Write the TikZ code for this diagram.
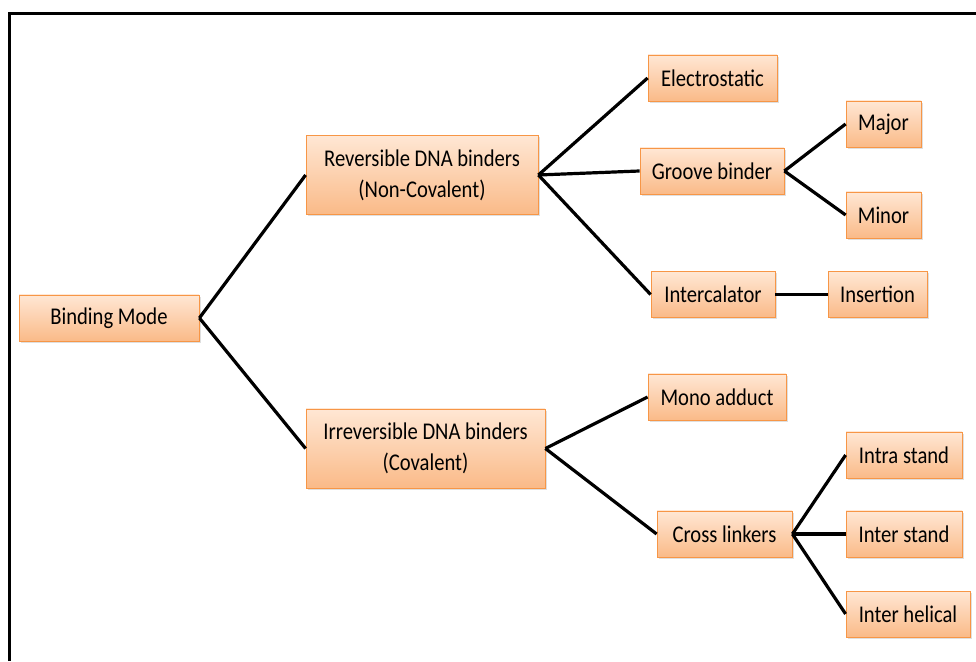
\documentclass[tikz,border=0pt]{standalone}
\usepackage{fontspec}
\setmainfont{Carlito}[FakeStretch=0.86]
\usetikzlibrary{shadows}
\definecolor{boxtop}{RGB}{255,231,212}
\definecolor{boxbot}{RGB}{250,186,136}
\definecolor{boxline}{RGB}{247,150,70}
\begin{document}
\begin{tikzpicture}[
	x=1pt, y=1pt,
	box/.style={ rectangle, draw=boxline, thick, top color=boxtop, bottom color=boxbot, minimum height=46, inner sep=2pt, align=center, font=\fontsize{24}{31}\selectfont, drop shadow={shadow xshift=1.5pt, shadow yshift=-2pt, opacity=0.25} },
	tall/.style={ minimum height=79 },
	link/.style={ line width=3.2pt }
]
\useasboundingbox (0,0) rectangle (976,661);

% frame
\draw[line width=3pt] (9.5,0) -- (9.5,647) -- (976,647);

\node at (109,343) (bind) [box,minimum width=180] {Binding Mode};
\node at (422,486) (rev) [box,tall,minimum width=232] {Reversible DNA binders\\(Non-Covalent)};
\node at (425.5,212.5) (irr) [box,tall,minimum width=239] {Irreversible DNA binders\\(Covalent)};
\draw[link] (bind.east) to (rev.west);
\draw[link] (bind.east) to (irr.west);

\node at (712.5,583) (elec) [box,minimum width=129] {Electrostatic};
\node at (712,490) (groove) [box,minimum width=144] {Groove binder};
\node at (713,366.5) (intc) [box,minimum width=124] {Intercalator};
\draw[link] (rev.east) to (elec.west);
\draw[link] (rev.east) to (groove.west);
\draw[link] (rev.east) to (intc.west);

\node at (883.5,537) (major) [box,minimum width=75] {Major};
\node at (883.5,446) (minor) [box,minimum width=75] {Minor};
\draw[link] (groove.east) to (major.west);
\draw[link] (groove.east) to (minor.west);
\node at (877.5,366.5) (insert) [box,minimum width=99] {Insertion};
\draw[link] (intc.east) to (insert.west);

\node at (717,264) (mono) [box,minimum width=138] {Mono adduct};
\node at (724.5,127) (cross) [box,minimum width=135] {Cross linkers};
\draw[link] (irr.east) to (mono.west);
\draw[link] (irr.east) to (cross.west);

\node at (904,206) (intra) [box,minimum width=116] {Intra stand};
\node at (904,127) (inter) [box,minimum width=116] {Inter stand};
\node at (908,47) (helic) [box,minimum width=124] {Inter helical};
\draw[link] (cross.east) to (intra.west);
\draw[link] (cross.east) to (inter.west);
\draw[link] (cross.east) to (helic.west);

\end{tikzpicture}
\end{document}
